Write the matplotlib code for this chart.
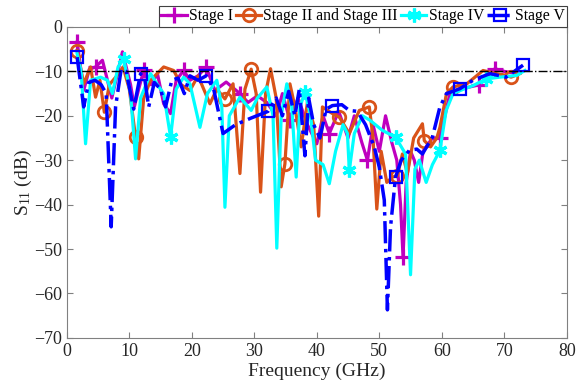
import numpy as np
import matplotlib
matplotlib.use("Agg")
import matplotlib.pyplot as plt

plt.rcParams["font.family"] = ["Liberation Serif", "DejaVu Serif"]
plt.rcParams["mathtext.fontset"] = "custom"
plt.rcParams["mathtext.rm"] = "Liberation Serif"
plt.rcParams["mathtext.it"] = "Liberation Serif:italic"

# Stage I (magenta, +)
f1 = [1.65, 2.7, 3.6, 4.6, 5.7, 6.5, 7.2, 8.9, 10.2, 10.8, 11.5, 12.3, 13.5, 14.5,
      15.5, 16.6, 17.5, 18.7, 19.7, 21, 22.3, 23.7, 25.5, 27.7, 29, 30.5, 32, 33.5,
      34.5, 35.7, 37, 38.5, 40, 41, 42, 43.5, 45, 46, 47.2, 48.1, 49, 50, 51, 52,
      52.8, 53.4, 53.8, 54.3, 55, 55.6, 56.3, 57, 58.5, 59.7, 61.3, 63, 66, 68.5,
      70, 72]
s1 = [-3.4, -14.3, -9.5, -9, -7.5, -12, -16, -5.6, -13, -18, -14, -9.8, -13, -10.5,
      -17.3, -19.5, -12, -9.8, -12, -11, -9, -14.3, -12.4, -15, -17, -15.5, -17, -20,
      -15, -21, -16, -22, -26.3, -20, -24, -19, -25, -20, -26, -30, -22, -28, -20, -26,
      -30, -40, -51.8, -35, -28, -30, -35, -28, -25, -25, -15, -14, -13, -9.4,
      -10, -10.5]
m1 = [1.65, 4.6, 12.3, 18.7, 22.3, 27.7, 35.7, 42, 48.1, 53.8, 59.7, 66, 68.5]

# Stage II and Stage III (orange, o)
f2 = [1.65, 2.7, 3.8, 4.6, 5.3, 6.0, 6.8, 8.3, 9.0, 10.0, 11, 11.5, 12.3, 13.4, 15.5,
      17.1, 18.3, 19.7, 21, 22.9, 24, 25.3, 26.6, 27.7, 28.5, 29.5, 30.3, 31, 31.8,
      32.6, 33.5, 34.3, 34.9, 35.7, 36.5, 37.5, 38.5, 39.5, 40.3, 40.9, 42.5, 43.6,
      45.2, 46.8, 48.4, 49.0, 49.6, 50.3, 51.2, 52.1, 52.9, 53.7, 54.5, 55.5, 56.9,
      57.2, 58.2, 59.2, 59.7, 60.75, 61.8, 64, 66.6, 68.7, 70, 71.1, 72.5]
s2 = [-5.3, -12.8, -9, -15.8, -12, -19.2, -13, -10.5, -9, -14, -24.8, -29.7, -16, -12,
      -9, -9.8, -13, -14.3, -11, -17.3, -14, -16.2, -12.8, -33, -14, -9.5, -15, -37.2,
      -15, -9.4, -16, -36, -30.8, -12.8, -18, -27, -17, -22, -42.6, -18, -19.5, -20.3,
      -24, -18.8, -18, -25, -41, -28, -35, -33.8, -33.5, -28.6, -33, -25, -21.8,
      -25.6, -27, -25, -22.6, -15, -13.5, -12.8, -9.8, -10.5, -10.8, -11.3, -10.5]
m2 = [1.65, 6.0, 11, 25.3, 29.5, 34.9, 43.6, 48.4, 52.9, 57.2, 61.8, 71.1]

# Stage IV (cyan, *)
f4 = [1.65, 2.3, 3.0, 3.8, 5.4, 6.5, 7.3, 8.2, 9.1, 10.2, 11.0, 11.8, 13.4, 14.5, 15.5,
      16.6, 17.5, 18.7, 19.7, 21.3, 22.5, 24.0, 24.8, 25.3, 26, 27.7, 29.5, 30.5, 32,
      33.0, 33.6, 34.3, 35.2, 36.0, 36.7, 37.3, 38.1, 39, 39.8, 41, 42, 43, 44.2, 44.9,
      45.2, 46, 47.3, 48.5, 50.5, 52.6, 54.2, 55.0, 55.7, 56.4, 57.5, 58.5, 59.7, 60.7,
      61.8, 63.5, 65, 67.1, 69.3, 72, 73.3]
s4 = [-6, -10, -26.3, -12, -11.3, -12, -15, -9, -7.2, -15, -29.7, -16, -10.5, -13, -15,
      -24.8, -14, -11.3, -12.8, -22.6, -15, -12, -18, -40.6, -20, -15.8, -18.8, -16, -13.5,
      -20, -49.8, -20, -12.8, -18, -33.8, -18, -14.7, -20, -30, -31, -35.3, -28, -22, -24,
      -32.3, -24, -20, -21, -23.3, -24.8, -28.6, -55.8, -32, -30, -35, -31, -27.8, -18.8,
      -15, -14, -13.2, -11.7, -11.3, -10.9, -9.8]
m4 = [9.1, 16.6, 38.1, 45.2, 52.6, 59.7, 67.1]

# Stage V (blue dash-dot, squares)
f5 = [1.65, 2.7, 3.5, 4.5, 5.5, 6.3, 7.1, 7.8, 8.7, 9.5, 10.7, 11.8, 12.5, 13.1, 14, 15,
      15.8, 16.8, 17.8, 18.8, 19.7, 21, 22.3, 23.5, 25, 27, 29.5, 32.2, 33.5, 34.5, 35.5,
      36.5, 37.2, 38.1, 38.7, 39.5, 40.5, 41.5, 42.5, 44, 45.2, 46.5, 47.8, 49.2, 50,
      50.8, 51.3, 51.8, 52.6, 53.5, 54.8, 56, 56.9, 58.5, 59.7, 60.75, 62.9, 65, 67.7,
      70.3, 73]
s5 = [-6.8, -18, -12.5, -12, -13, -15, -45, -18, -9.5, -10, -18.5, -10.5, -12, -18, -12.5,
      -14, -18, -12, -11.5, -15, -11, -12, -11, -14, -24, -22, -20.5, -19, -16, -20, -14.5,
      -20, -14, -29, -16, -22, -25, -18.5, -17.7, -17.5, -18.8, -19, -22, -27, -31.6,
      -39, -63.7, -45, -33.8, -30, -27.8, -27.5, -28.6, -24.8, -18, -15, -13.9, -12, -10.5,
      -11.3, -8.6]
m5 = [1.65, 11.8, 22.3, 32.2, 42.5, 52.6, 62.9, 73]

labels = ["Stage I", "Stage II and Stage III", "Stage IV", "Stage V"]
threshold = -10


def _marks(f, fm):
    f = np.asarray(f)
    return [int(np.argmin(np.abs(f - v))) for v in fm]


fig = plt.figure(figsize=(5.76, 3.91), dpi=100)
ax = fig.add_axes([0.116, 0.136, 0.868, 0.795])

ax.plot(f1, s1, color="#BF00BF", lw=2.3, marker="+", ms=11, mew=2.3,
        markevery=_marks(f1, m1), label=labels[0])
ax.plot(f2, s2, color="#D95319", lw=2.3, marker="o", ms=9, mew=2, mfc="none",
        markevery=_marks(f2, m2), label=labels[1])
ax.plot(f4, s4, color="#00FFFF", lw=2.3, marker=(6, 2, 0), ms=10, mew=2.3,
        markevery=_marks(f4, m4), label=labels[2])
ax.plot(f5, s5, color="#0000FF", lw=2.5, ls="-.", marker="s", ms=8, mew=1.6, mfc="none",
        markevery=_marks(f5, m5), label=labels[3])
ax.axhline(threshold, color="black", lw=1, ls="-.")

ax.set_xlim(0, 80)
ax.set_ylim(-70, 0)
ax.set_xticks(range(0, 81, 10))
ax.set_yticks(range(-70, 1, 10))
ax.tick_params(direction="in", top=True, right=True, labelsize=13, length=4,
               color="#808080", labelcolor="#262626")
for s in ax.spines.values():
    s.set_color("#808080")
ax.set_xlabel("Frequency (GHz)", fontsize=14, color="#262626", labelpad=2)
ax.set_ylabel(r"S$_{11}$ (dB)", fontsize=14, color="#262626", labelpad=0)

leg = ax.legend(loc="upper right", bbox_to_anchor=(1.0, 1.068), ncol=4, fontsize=11.3,
                frameon=True, fancybox=False, edgecolor="#404040", framealpha=1,
                handlelength=1.6, handletextpad=0.15, columnspacing=0.2,
                borderpad=0.15, borderaxespad=0)
leg.get_frame().set_linewidth(0.8)

fig.savefig("out.png", dpi=100)
